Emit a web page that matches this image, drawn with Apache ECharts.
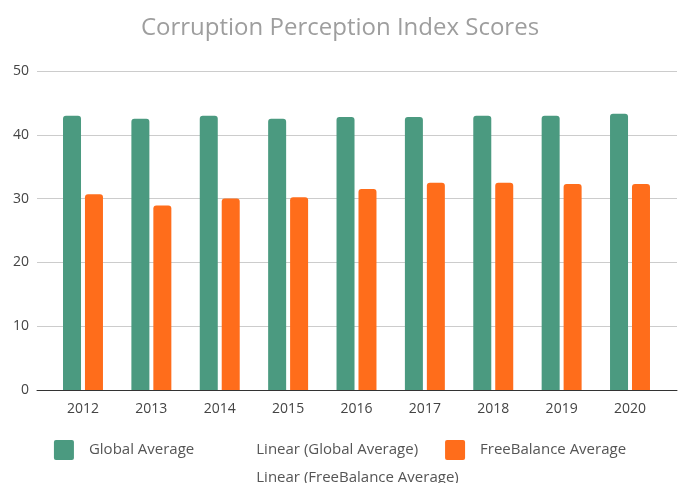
<!DOCTYPE html>
<html>
<head>
<meta charset="utf-8">
<script src="https://cdn.jsdelivr.net/npm/echarts@6/dist/echarts.min.js"></script>
<style>html,body{margin:0;padding:0;background:#fff}#c{width:680px;height:483px}</style>
</head>
<body>
<div id="c"></div>
<script>
const years = ['2012','2013','2014','2015','2016','2017','2018','2019','2020'];
const globalAverage = [43.0, 42.5, 43.0, 42.5, 42.8, 42.8, 43.0, 43.0, 43.3];
const freeBalanceAverage = [30.7, 28.9, 30.0, 30.2, 31.5, 32.5, 32.5, 32.3, 32.3];
const yTicks = [0, 10, 20, 30, 40, 50];

const FONT = '"Open Sans", sans-serif';
const chart = echarts.init(document.getElementById('c'), null, {renderer: 'canvas'});
const hidden = {color: 'transparent', opacity: 0};
const boxIcon = 'path://M2,0H18Q20,0 20,2V18Q20,20 18,20H2Q0,20 0,18V2Q0,0 2,0Z';
const legendText = {fontFamily: FONT, fontSize: 15, color: '#555', padding: [0, 0, 0, 10]};
chart.setOption({
  animation: false,
  backgroundColor: '#fff',
  title: {
    text: 'Corruption Perception Index Scores',
    left: 'center', top: 11,
    textStyle: {fontFamily: FONT, fontSize: 24, fontWeight: 'normal', color: '#9e9e9e'}
  },
  legend: [{
    top: 435, left: 'center',
    itemWidth: 20, itemHeight: 20, itemGap: 27,
    textStyle: legendText,
    data: [
      {name: 'Global Average', icon: boxIcon},
      {name: 'Linear (Global Average)', icon: 'rect', itemStyle: hidden, lineStyle: {opacity: 0}},
      {name: 'FreeBalance Average', icon: boxIcon}
    ]
  }, {
    top: 463, left: 'center',
    itemWidth: 20, itemHeight: 20, itemGap: 27,
    textStyle: legendText,
    data: [
      {name: 'Linear (FreeBalance Average)', icon: 'rect', itemStyle: hidden, lineStyle: {opacity: 0}}
    ]
  }],
  grid: [
    {left: 37, right: 3, top: 71, height: 319},
    {left: 48.8, right: 15.8, top: 71, height: 319}
  ],
  xAxis: [{
    gridIndex: 0, type: 'category', data: years,
    axisLine: {show: true, lineStyle: {color: '#333', width: 1}},
    axisTick: {show: false}, axisLabel: {show: false}, splitLine: {show: false}
  }, {
    gridIndex: 1, type: 'category', data: years,
    axisLine: {show: false}, axisTick: {show: false},
    axisLabel: {fontFamily: FONT, fontSize: 14, color: '#444', margin: 12}
  }],
  yAxis: [{
    gridIndex: 0, type: 'value', min: yTicks[0], max: yTicks[yTicks.length - 1], interval: 10,
    axisLine: {show: false}, axisTick: {show: false},
    axisLabel: {fontFamily: FONT, fontSize: 14, color: '#444', margin: 8},
    splitLine: {lineStyle: {color: '#cccccc', width: 1}}
  }, {
    gridIndex: 1, type: 'value', min: yTicks[0], max: yTicks[yTicks.length - 1], interval: 10,
    show: false, splitLine: {show: false}
  }],
  series: [{
    name: 'Global Average', type: 'bar', xAxisIndex: 1, yAxisIndex: 1,
    data: globalAverage, barWidth: 18, barGap: '22%',
    itemStyle: {color: '#4b9a80', borderRadius: [3, 3, 0, 0]}
  }, {
    name: 'Linear (Global Average)', type: 'line', xAxisIndex: 1, yAxisIndex: 1,
    data: [], showSymbol: false, lineStyle: {opacity: 0}, itemStyle: {opacity: 0}
  }, {
    name: 'FreeBalance Average', type: 'bar', xAxisIndex: 1, yAxisIndex: 1,
    data: freeBalanceAverage, barWidth: 18, barGap: '22%',
    itemStyle: {color: '#ff6d1b', borderRadius: [3, 3, 0, 0]}
  }, {
    name: 'Linear (FreeBalance Average)', type: 'line', xAxisIndex: 1, yAxisIndex: 1,
    data: [], showSymbol: false, lineStyle: {opacity: 0}, itemStyle: {opacity: 0}
  }]
});
</script>
</body>
</html>
